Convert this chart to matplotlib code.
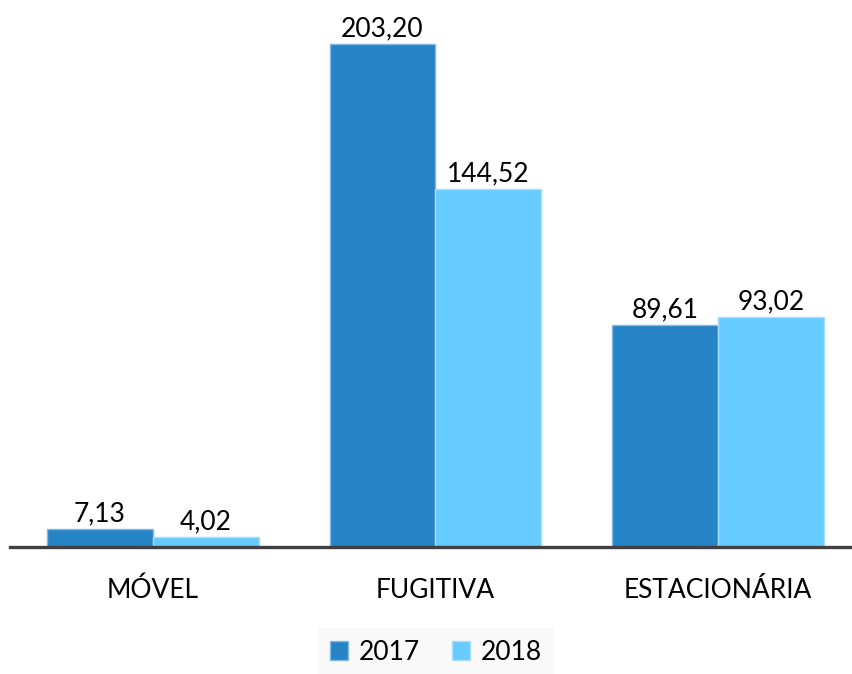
import numpy as np
import matplotlib.pyplot as plt
import matplotlib

matplotlib.rc('font', **{'family': 'sans-serif', 'sans-serif': ['Lato'], 'size': 19})

categories = ['MÓVEL', 'FUGITIVA', 'ESTACIONÁRIA']
years = ['2017', '2018']
v2017 = [7.13, 203.20, 89.61]
v2018 = [4.02, 144.52, 93.02]

c2017 = '#2683C6'
c2018 = '#66CCFF'

fig = plt.figure(figsize=(8.53, 6.74), dpi=100)
ax = fig.add_axes([10/853, 127/674, 843/853, 547/674])

x = np.arange(len(categories))
w = 0.375
b1 = ax.bar(x - w/2, v2017, w, color=c2017, edgecolor='#7fbbe6', lw=1, label=years[0])
b2 = ax.bar(x + w/2, v2018, w, color=c2018, edgecolor='#a8ddfb', lw=1, label=years[1])

fmt = lambda v: ('%.2f' % v).replace('.', ',')
for bars, vals in ((b1, v2017), (b2, v2018)):
    for r, v in zip(bars, vals):
        ax.annotate(fmt(v), (r.get_x() + r.get_width()/2, v), xytext=(0, 2),
                    textcoords='offset points', ha='center', va='bottom')

ax.set_xlim(-0.506, 2.478)
ax.set_ylim(0, 221)
ax.set_xticks(x)
ax.set_xticklabels(categories)
ax.tick_params(axis='x', length=0, pad=22)
ax.set_yticks([])
for s in ['top', 'right', 'left']:
    ax.spines[s].set_visible(False)
ax.spines['bottom'].set_color('#404040')
ax.spines['bottom'].set_linewidth(2.4)

leg = fig.legend(loc='center', bbox_to_anchor=(436/853, 1 - 652/674), ncol=2,
                 frameon=True, fancybox=False, handlelength=0.7, handleheight=0.7,
                 handletextpad=0.4, columnspacing=1.2, borderpad=0.45)
leg.get_frame().set_facecolor('#f8f8f8')
leg.get_frame().set_edgecolor('none')

fig.savefig('out.png', dpi=100)
